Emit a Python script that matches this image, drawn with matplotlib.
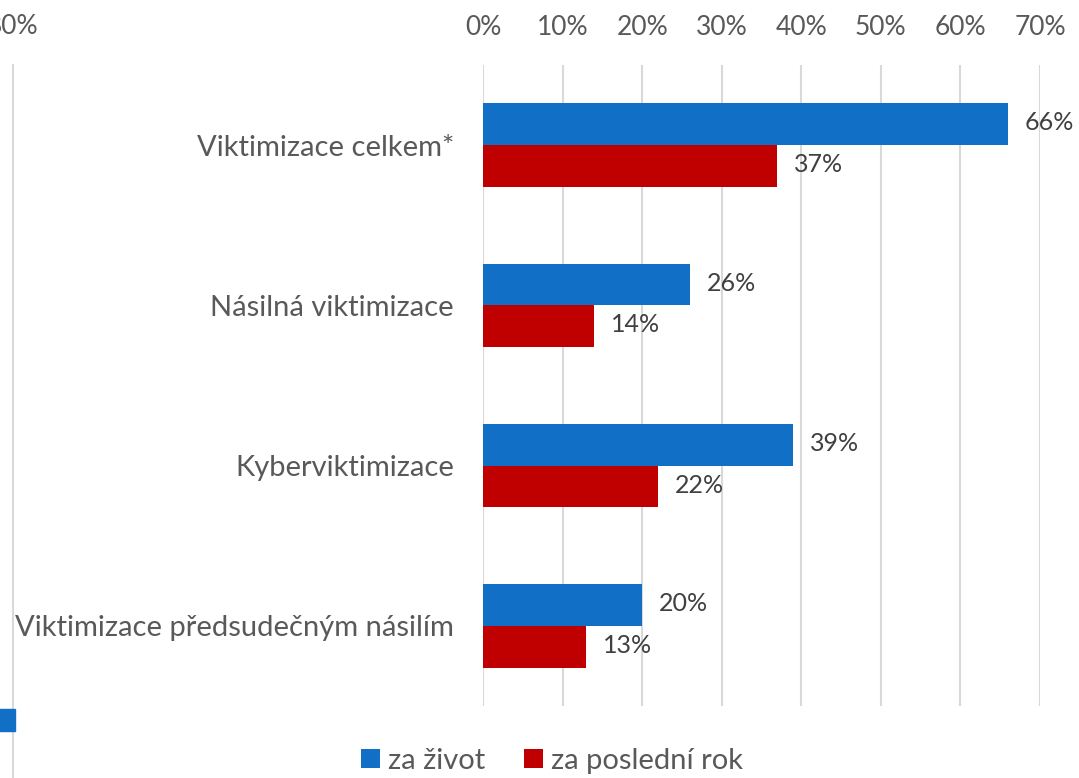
import matplotlib
matplotlib.use("Agg")
import matplotlib.pyplot as plt
from matplotlib.patches import Rectangle
from matplotlib.lines import Line2D
import numpy as np

categories = ["Viktimizace celkem*", "Násilná viktimizace",
              "Kyberviktimizace", "Viktimizace předsudečným násilím"]
za_zivot = [0.66, 0.26, 0.39, 0.20]
za_posledni_rok = [0.37, 0.14, 0.22, 0.13]
series_names = ["za život", "za poslední rok"]
tick_values = [0.0, 0.1, 0.2, 0.3, 0.4, 0.5, 0.6, 0.7]

BLUE = "#1170C6"
RED = "#C00000"
GRID = "#D9D9D9"
TXT = "#595959"
LBL = "#404040"

plt.rcParams["font.family"] = ["Lato", "DejaVu Sans"]

W, H = 1079, 778
fig = plt.figure(figsize=(W / 100, H / 100), dpi=100)

def fx(px):
    return px / W

def fy(py):
    return 1 - py / H

ax = fig.add_axes([fx(483), fy(706), fx(1040) - fx(483), fy(65) - fy(706)])

y = np.arange(len(categories))
h = 0.26
ax.barh(y - h / 2, za_zivot, height=h, color=BLUE, label=series_names[0], zorder=3)
ax.barh(y + h / 2, za_posledni_rok, height=h, color=RED, label=series_names[1], zorder=3)

for yi, v in zip(y, za_zivot):
    ax.annotate(f"{round(v * 100)}%", (v, yi - h / 2), xytext=(12, 1),
                textcoords="offset points", va="center", ha="left",
                fontsize=18, color=LBL)
for yi, v in zip(y, za_posledni_rok):
    ax.annotate(f"{round(v * 100)}%", (v, yi + h / 2), xytext=(12, 1),
                textcoords="offset points", va="center", ha="left",
                fontsize=18, color=LBL)

ax.set_ylim(len(categories) - 0.5, -0.5)
ax.set_xlim(0, 0.7)
ax.set_xticks(tick_values)
ax.set_xticklabels([f"{round(t * 100)}%" for t in tick_values])
ax.xaxis.tick_top()
ax.set_yticks(y)
ax.set_yticklabels(categories)
ax.tick_params(axis="x", length=0, pad=18, labelsize=19, colors=TXT)
ax.tick_params(axis="y", length=0, pad=21, labelsize=21, colors=TXT)
ax.grid(axis="x", color=GRID, linewidth=1.5, zorder=0)
ax.grid(axis="y", visible=False)
for s in ax.spines.values():
    s.set_visible(False)
ax.set_facecolor("none")

# fragment of the neighbouring chart cut off on the left
fig.add_artist(Line2D([fx(13), fx(13)], [fy(65), 0], color=GRID, linewidth=1.5, zorder=1))
fig.add_artist(Rectangle((fx(-6), fy(731)), fx(21), fy(709) - fy(731),
                         color=BLUE, transform=fig.transFigure, zorder=2))
fig.text(fx(13), fy(27), "80%", ha="center", va="center", fontsize=19, color=TXT)

leg = fig.legend(loc="lower center", bbox_to_anchor=(fx(552), -0.028), ncol=2,
                 frameon=False, fontsize=21, labelcolor=TXT, handlelength=0.65,
                 handleheight=0.65, handletextpad=0.3, columnspacing=1.3)

fig.savefig("out.png", dpi=100)
